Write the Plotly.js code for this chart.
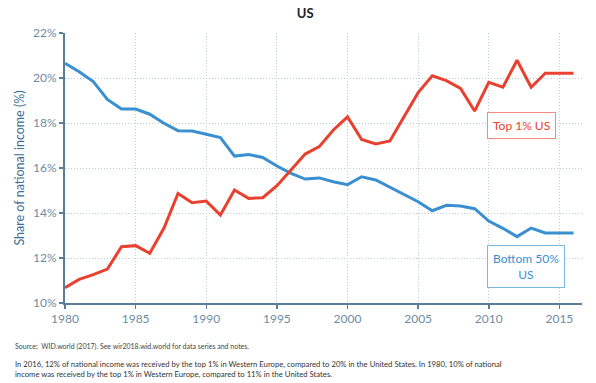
<!DOCTYPE html>
<html>
<head>
<meta charset="utf-8">
<script src="https://cdn.plot.ly/plotly-3.0.1.min.js"></script>
<style>html,body{margin:0;padding:0;background:#fff;}#chart{width:596px;height:383px;}</style>
</head>
<body>
<div id="chart"></div>
<script>
const years = [1980,1981,1982,1983,1984,1985,1986,1987,1988,1989,1990,1991,1992,1993,1994,1995,1996,1997,1998,1999,2000,2001,2002,2003,2004,2005,2006,2007,2008,2009,2010,2011,2012,2013,2014,2015,2016];
const top1 = [10.68,11.05,11.26,11.51,12.50,12.55,12.21,13.32,14.87,14.46,14.53,13.91,15.02,14.65,14.68,15.21,15.91,16.62,16.95,17.69,18.27,17.27,17.07,17.20,18.28,19.35,20.10,19.88,19.54,18.53,19.81,19.59,20.79,19.59,20.21,20.21,20.21];
const bottom50 = [20.65,20.28,19.84,19.05,18.62,18.62,18.39,17.99,17.66,17.64,17.50,17.35,16.53,16.60,16.47,16.09,15.76,15.51,15.56,15.39,15.26,15.61,15.47,15.14,14.80,14.50,14.10,14.34,14.31,14.19,13.64,13.32,12.95,13.33,13.11,13.11,13.11];
const yTicks = [10,12,14,16,18,20,22];
const yTickText = ['10%','12%','14%','16%','18%','20%','22%'];
const xTicks = [1980,1985,1990,1995,2000,2005,2010,2015];

const RED = '#e8412f', BLUE = '#3a8fd0';
const traces = [
  {x: years, y: bottom50, type:'scatter', mode:'lines', line:{color:BLUE, width:3}, hoverinfo:'skip'},
  {x: years, y: top1, type:'scatter', mode:'lines', line:{color:RED, width:3}, hoverinfo:'skip'}
];
const plotH = 270;
function py(pix){ return (303 - pix)/plotH; }
const layout = {
  width:596, height:383,
  margin:{l:65, r:14, t:33, b:80},
  paper_bgcolor:'#fff', plot_bgcolor:'#fff',
  showlegend:false,
  font:{family:'Lato, "Open Sans", sans-serif', color:'#333'},
  title:{text:'<b>US</b>', x:0.512, xref:'container', y:0.965, yref:'container', yanchor:'middle', font:{size:13, color:'#222'}},
  xaxis:{range:[1980,2016.6], tickvals:xTicks, ticks:'outside', ticklen:4, tickcolor:'#5b7d99', tickwidth:1.5,
    showline:true, linecolor:'#5b7d99', linewidth:2, showgrid:true, gridcolor:'#bccbd8', griddash:'1px,2px', gridwidth:1,
    zeroline:false, tickfont:{size:12, color:'#6f8ba3'}, fixedrange:true},
  yaxis:{range:[10,22], tickvals:yTicks, ticktext:yTickText, ticks:'outside', ticklen:4, tickcolor:'#5b7d99', tickwidth:1.5,
    showline:true, linecolor:'#5b7d99', linewidth:2, showgrid:true, gridcolor:'#bccbd8', griddash:'1px,2px', gridwidth:1,
    zeroline:false, tickfont:{size:12, color:'#6f8ba3'}, fixedrange:true,
    title:{text:'Share of national income (%)', font:{size:12.5, color:'#3a6d96'}, standoff:6}},
  annotations:[
    {x:2012.35, y:17.87, xref:'x', yref:'y', text:'Top 1% US', showarrow:false, font:{size:12, color:RED},
      bordercolor:'#f08c82', borderwidth:1, borderpad:5, bgcolor:'#fff', xanchor:'center', yanchor:'middle'},
    {x:2012.6, y:11.63, xref:'x', yref:'y', text:'Bottom 50%<br>US', showarrow:false, font:{size:12, color:BLUE},
      bordercolor:'#7ab9e3', borderwidth:1, borderpad:5, bgcolor:'#fff', xanchor:'center', yanchor:'middle'},
    {x:(13-65)/517, y:py(346), xref:'paper', yref:'paper', xanchor:'left', yanchor:'middle', showarrow:false, align:'left',
      text:'Source:  WID.world (2017). See wir2018.wid.world for data series and notes.', font:{size:7, color:'#444'}},
    {x:(13-65)/517, y:py(356.5), xref:'paper', yref:'paper', xanchor:'left', yanchor:'top', showarrow:false, align:'left',
      text:'In 2016, 12% of national income was received by the top 1% in Western Europe, compared to 20% in the United States. In 1980, 10% of national<br>income was received by the top 1% in Western Europe, compared to 11% in the United States.',
      font:{size:7.7, color:'#333'}}
  ]
};
Plotly.newPlot('chart', traces, layout, {staticPlot:true, displayModeBar:false});
</script>
</body>
</html>
